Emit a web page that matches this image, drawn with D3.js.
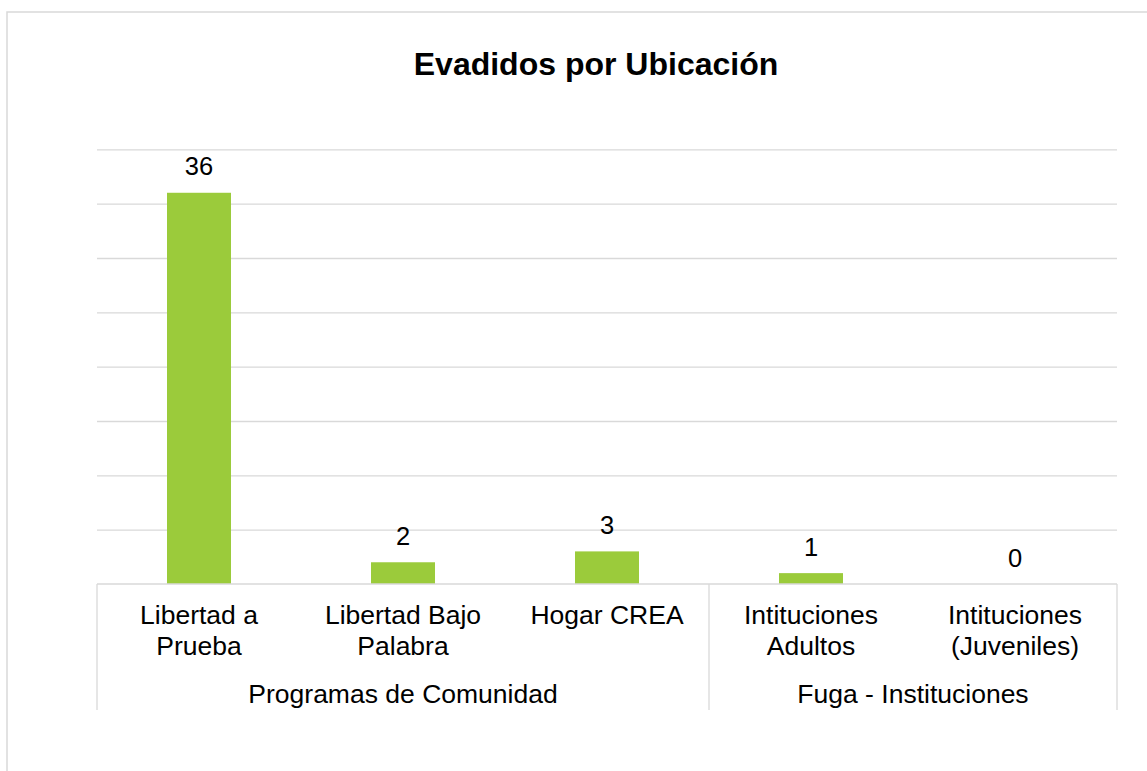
<!DOCTYPE html>
<html lang="es">
<head>
<meta charset="UTF-8" />
<title>Evadidos por Ubicación</title>
<style>
  body { margin: 0; background: #fff; }
  text { font-family: Arial, "Liberation Sans", sans-serif; fill: #000; }
</style>
</head>
<body>
<svg id="svg" width="1147" height="771"></svg>
<script src="https://d3js.org/d3.v7.min.js"></script>
<script>
// data
const categories = ['Libertad a\nPrueba', 'Libertad Bajo\nPalabra', 'Hogar CREA', 'Intituciones\nAdultos', 'Intituciones\n(Juveniles)'];
const values = [36, 2, 3, 1, 0];
const groupNames = ['Programas de Comunidad', 'Fuga - Instituciones'];
const groupSizes = [3, 2];
const yTicks = [0, 5, 10, 15, 20, 25, 30, 35, 40];

const svg = d3.select('#svg');
const gridColor = '#d9d9d9';
const barColor = '#9bcb3b';

// outer chart border (runs off the right and bottom edge)
svg.append('rect')
  .attr('x', 7).attr('y', 12)
  .attr('width', 1300).attr('height', 900)
  .attr('fill', 'none').attr('stroke', gridColor).attr('stroke-width', 1.5);

const plotLeft = 97, plotRight = 1117, plotTop = 149.3, plotBase = 584;

const x = d3.scaleBand().domain(d3.range(categories.length)).range([plotLeft, plotRight]).padding(0);
const y = d3.scaleLinear().domain([0, 40]).range([plotBase, plotTop]);

// title
svg.append('text')
  .attr('x', 596).attr('y', 75)
  .attr('text-anchor', 'middle')
  .style('font-size', '32px').style('font-weight', 'bold')
  .text('Evadidos por Ubicación');

// gridlines
const grid = svg.append('g')
  .attr('transform', `translate(${plotLeft},0)`)
  .call(d3.axisLeft(y).tickValues(yTicks.slice(1)).tickSize(-(plotRight - plotLeft)).tickFormat(''));
grid.select('.domain').remove();
grid.selectAll('line').attr('stroke', gridColor).attr('stroke-width', 1.3);

// bars
const barW = x.bandwidth() * 64 / 204;
svg.append('g').selectAll('rect')
  .data(values)
  .join('rect')
  .attr('x', (d, i) => x(i) + (x.bandwidth() - barW) / 2)
  .attr('y', d => y(d))
  .attr('width', barW)
  .attr('height', d => y(0) - y(d))
  .attr('fill', barColor);

// data labels
svg.append('g').selectAll('text')
  .data(values)
  .join('text')
  .attr('x', (d, i) => x(i) + x.bandwidth() / 2)
  .attr('y', d => y(d) - 17.5)
  .attr('text-anchor', 'middle')
  .style('font-size', '25.5px')
  .text(d => d);

// category axis box
const axisBottom = 710;
const axisG = svg.append('g').attr('stroke', gridColor).attr('stroke-width', 1.3);
axisG.append('line').attr('x1', plotLeft).attr('x2', plotRight).attr('y1', y(0)).attr('y2', y(0));

// group boundaries
let idx = 0;
const bounds = [0];
groupSizes.forEach(s => { idx += s; bounds.push(idx); });
bounds.forEach(b => {
  const bx = b < categories.length ? x(b) : plotRight;
  axisG.append('line').attr('x1', bx).attr('x2', bx).attr('y1', y(0)).attr('y2', axisBottom);
});

// category labels
const catG = svg.append('g');
categories.forEach((c, i) => {
  const t = catG.append('text')
    .attr('x', x(i) + x.bandwidth() / 2)
    .attr('y', 624)
    .attr('text-anchor', 'middle')
    .style('font-size', '26.5px');
  c.split('\n').forEach((line, j) => {
    t.append('tspan')
      .attr('x', x(i) + x.bandwidth() / 2)
      .attr('dy', j === 0 ? 0 : 31)
      .text(line);
  });
});

// group labels
groupNames.forEach((g, k) => {
  const x0 = x(bounds[k]);
  const x1 = bounds[k + 1] < categories.length ? x(bounds[k + 1]) : plotRight;
  svg.append('text')
    .attr('x', (x0 + x1) / 2)
    .attr('y', 703)
    .attr('text-anchor', 'middle')
    .style('font-size', '26.5px')
    .text(g);
});
</script>
</body>
</html>
